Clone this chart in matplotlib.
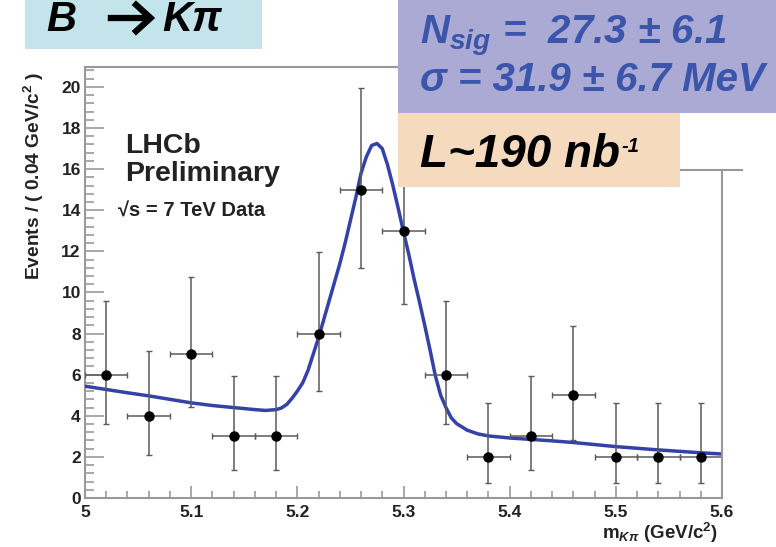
import matplotlib
matplotlib.use("Agg")
import matplotlib.pyplot as plt
from matplotlib.lines import Line2D
from matplotlib.patches import Rectangle, FancyArrowPatch
from matplotlib.ticker import MultipleLocator, FixedLocator

plt.rcParams['font.family'] = ['Liberation Sans', 'DejaVu Sans']
plt.rcParams['mathtext.fontset'] = 'custom'
plt.rcParams['mathtext.rm'] = 'Liberation Sans:bold'
plt.rcParams['mathtext.it'] = 'Liberation Sans:italic:bold'
plt.rcParams['mathtext.bf'] = 'Liberation Sans:bold'

# ---- data ----
bin_centers = [5.02, 5.06, 5.10, 5.14, 5.18, 5.22, 5.26, 5.30, 5.34, 5.38, 5.42, 5.46, 5.50, 5.54, 5.58]
counts      = [6, 4, 7, 3, 3, 8, 15, 13, 6, 2, 3, 5, 2, 2, 2]
err_low     = [2.38, 1.91, 2.58, 1.63, 1.63, 2.77, 3.83, 3.56, 2.38, 1.29, 1.63, 2.16, 1.29, 1.29, 1.29]
err_high    = [3.58, 3.16, 3.77, 2.92, 2.92, 3.95, 4.93, 4.67, 3.58, 2.64, 2.92, 3.38, 2.64, 2.64, 2.64]
bin_halfwidth = 0.02

fit_x = [5.00, 5.02, 5.04, 5.06, 5.08, 5.10, 5.12, 5.14, 5.16, 5.17, 5.18, 5.185, 5.19, 5.195,
         5.20, 5.205, 5.21, 5.215, 5.22, 5.225, 5.23, 5.235, 5.24, 5.245, 5.25, 5.255, 5.26,
         5.265, 5.27, 5.275, 5.28, 5.285, 5.29, 5.295, 5.30, 5.305, 5.31, 5.315, 5.32, 5.325,
         5.33, 5.335, 5.34, 5.345, 5.35, 5.36, 5.37, 5.38, 5.40, 5.42, 5.44, 5.46, 5.48, 5.50,
         5.52, 5.54, 5.56, 5.58, 5.60]
fit_y = [5.44, 5.28, 5.12, 4.97, 4.80, 4.63, 4.50, 4.40, 4.30, 4.26, 4.30, 4.38, 4.55, 4.85,
         5.20, 5.60, 6.20, 7.00, 7.80, 8.70, 9.60, 10.50, 11.40, 12.40, 13.50, 14.60, 15.80,
         16.60, 17.15, 17.25, 17.00, 16.20, 15.20, 14.10, 12.95, 11.85, 10.65, 9.55, 8.40, 7.20,
         5.95, 5.00, 4.40, 3.90, 3.62, 3.30, 3.12, 3.02, 2.92, 2.85, 2.78, 2.70, 2.60, 2.50,
         2.42, 2.34, 2.27, 2.20, 2.14]

xticks = [5.0, 5.1, 5.2, 5.3, 5.4, 5.5, 5.6]
xtick_labels = ['5', '5.1', '5.2', '5.3', '5.4', '5.5', '5.6']
yticks = [0, 2, 4, 6, 8, 10, 12, 14, 16, 18, 20]

W, H = 776, 547
fig = plt.figure(figsize=(W / 100, H / 100), dpi=100)
fig.patch.set_facecolor('white')

def fx(px):
    return px / W

def fy(py):
    return 1 - py / H

ax = fig.add_axes([fx(85), fy(498), fx(722) - fx(85), fy(67) - fy(498)])
ax.set_xlim(5.0, 5.6)
ax.set_ylim(0, 20.97)

ax.plot(fit_x, fit_y, color='#3441a8', lw=2.5, zorder=3, solid_capstyle='round')
ax.errorbar(bin_centers, counts, yerr=[err_low, err_high], xerr=bin_halfwidth,
            fmt='o', ms=6.5, mfc='black', mec='black', ecolor='#5a5a5a',
            elinewidth=1.1, capsize=2.5, capthick=1.0, zorder=4)

spine_col = '#999999'
for s in ['left', 'bottom', 'top']:
    ax.spines[s].set_color(spine_col)
    ax.spines[s].set_linewidth(1.5)
ax.spines['right'].set_visible(False)

ax.xaxis.set_major_locator(FixedLocator(xticks))
ax.set_xticklabels(xtick_labels)
ax.xaxis.set_minor_locator(MultipleLocator(0.02))
ax.yaxis.set_major_locator(FixedLocator(yticks))
ax.yaxis.set_minor_locator(MultipleLocator(0.4))

ax.tick_params(axis='x', which='major', direction='in', length=9, width=1.2, color=spine_col,
               labelsize=12.5, pad=5, labelcolor='#222222')
ax.tick_params(axis='x', which='minor', direction='in', length=5, width=1.2, color=spine_col)
ax.tick_params(axis='y', which='major', direction='in', length=13.5, width=1.2, color=spine_col,
               labelsize=12.5, pad=3, labelcolor='#222222')
ax.tick_params(axis='y', which='minor', direction='in', length=6.5, width=1.2, color=spine_col)
ax.tick_params(top=False, right=False, which='both')
for lab in ax.get_xticklabels() + ax.get_yticklabels():
    lab.set_fontweight('bold')

# right frame remnant and horizontal line
fig.add_artist(Line2D([fx(722), fx(722)], [fy(170), fy(498)], color=spine_col, lw=1.5))
fig.add_artist(Line2D([fx(680), fx(742)], [fy(170), fy(170)], color=spine_col, lw=1.5))

# axis labels
fig.text(fx(34), fy(176), 'Events / ( 0.04 GeV/c$^{2}$ )', rotation=90, ha='center', va='center',
         fontsize=13.8, fontweight='bold', color='#222222')
fig.text(fx(718), fy(533), 'm$_{K\\pi}$ (GeV/c$^{2}$)', ha='right', va='center',
         fontsize=13.5, fontweight='bold', color='#222222')

# LHCb labels
fig.text(fx(125), fy(153), 'LHCb', fontsize=20.5, fontweight='bold', color='#222222', va='baseline')
fig.text(fx(125), fy(181), 'Preliminary', fontsize=20.5, fontweight='bold', color='#222222', va='baseline')
fig.text(fx(118), fy(217), '√s = 7 TeV Data', fontsize=14.5, fontweight='bold',
         color='#222222', va='baseline')

# boxes
fig.add_artist(Rectangle((fx(25), fy(49)), fx(262) - fx(25), fy(0) - fy(49),
                         transform=fig.transFigure, facecolor='#c3e4ea', edgecolor='none', zorder=5))
fig.add_artist(Rectangle((fx(398), fy(113)), fx(776) - fx(398), fy(0) - fy(113),
                         transform=fig.transFigure, facecolor='#aaaad4', edgecolor='none', zorder=5))
fig.add_artist(Rectangle((fx(398), fy(187)), fx(680) - fx(398), fy(113) - fy(187),
                         transform=fig.transFigure, facecolor='#f5dabe', edgecolor='none', zorder=5))

# title B -> K pi
fig.text(fx(46), fy(31), 'B', fontsize=30, fontweight='bold', style='italic',
         color='black', va='baseline', zorder=6)
fig.add_artist(FancyArrowPatch((fx(105), fy(18)), (fx(158), fy(18)), transform=fig.transFigure,
                               arrowstyle='->,head_length=0.55,head_width=0.5', mutation_scale=22,
                               lw=4.5, color='black', zorder=6, capstyle='butt', joinstyle='miter'))
fig.text(fx(162), fy(31), 'Kπ', fontsize=30, fontweight='bold', style='italic',
         color='black', va='baseline', zorder=6)

fig.text(fx(420), fy(43), '$N_{sig}$ =  27.3 ± 6.1', fontsize=29, fontweight='bold', style='italic',
         color='#3b55aa', va='baseline', zorder=6)
fig.text(fx(420), fy(91), 'σ = 31.9 ± 6.7 MeV', fontsize=29, fontweight='bold', style='italic',
         color='#3b55aa', va='baseline', zorder=6)
fig.text(fx(420), fy(167), 'L~190 nb', fontsize=33, fontweight='bold', style='italic',
         color='black', va='baseline', zorder=6)
fig.text(fx(621), fy(152), '-1', fontsize=14.5, fontweight='bold', style='italic',
         color='black', va='baseline', zorder=6)

fig.savefig('out.png', dpi=100, facecolor='white')
